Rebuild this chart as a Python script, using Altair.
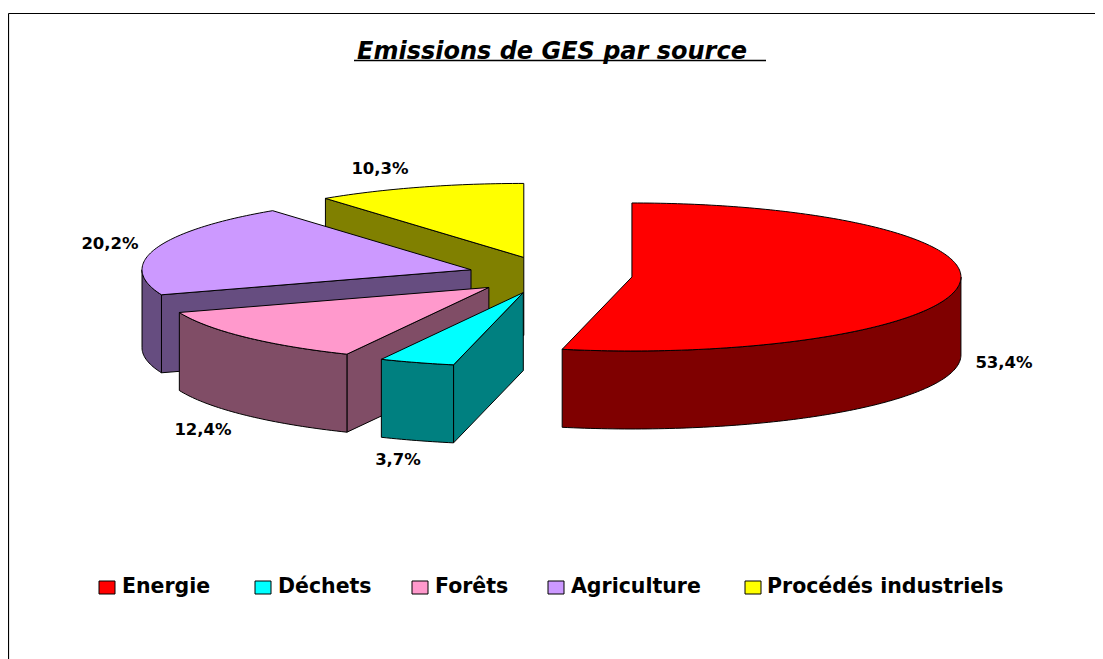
import math
import altair as alt
import pandas as pd

# --- data ---
categories = ["Energie", "Déchets", "Forêts", "Agriculture", "Procédés industriels"]
shares = [53.4, 3.7, 12.4, 20.2, 10.3]
share_labels = ["53,4%", "3,7%", "12,4%", "20,2%", "10,3%"]
top_colors = ["#FF0000", "#00FFFF", "#FF99CC", "#CC99FF", "#FFFF00"]
side_colors = ["#7F0000", "#008080", "#804D66", "#664D80", "#808000"]
title_text = "Emissions de GES par source"

# --- layout (page pixels) ---
W, H = 1087, 651
CX, CY = 550, 275          # pie centre
RX, RY = 329, 74           # ellipse semi-axes
DEPTH = 78                 # pie thickness
EXPLODE = 82.4             # slice explosion distance
DRAW_ORDER = [4, 3, 2, 1, 0]
label_pos = [(1004, 363), (398, 460), (203, 430), (110, 244), (380, 169)]
legend_swatch_x = [99, 255, 412, 548, 745]
legend_label_x = [122, 278, 435, 571, 767]
FONT = "DejaVu Sans"

xs = alt.Scale(domain=[8, 8 + W], range=[0, W], nice=False, zero=False)
ys = alt.Scale(domain=[8, 8 + H], range=[0, H], nice=False, zero=False)
X = lambda f: alt.X(f, type="quantitative", scale=xs, axis=None)
Y = lambda f: alt.Y(f, type="quantitative", scale=ys, axis=None)
X2 = lambda f: alt.X2(f)
Y2 = lambda f: alt.Y2(f)


def rim(ax, ay, deg):
    t = math.radians(deg)
    return ax + RX * math.sin(t), ay - RY * math.cos(t)


def arc(ax, ay, a, b):
    n = max(2, int(abs(b - a)) + 1)
    return [rim(ax, ay, a + (b - a) * i / n) for i in range(n + 1)]


def poly(points, fill):
    df = pd.DataFrame(points, columns=["x", "y"])
    df["i"] = range(len(df))
    return (
        alt.Chart(df)
        .mark_line(interpolate="linear-closed", fill=fill, stroke="#000000", strokeWidth=1, clip=False)
        .encode(x=X("x"), y=Y("y"), order=alt.Order("i:Q"))
    )


total = sum(shares)
angles = [0]
for s in shares:
    angles.append(angles[-1] + 360 * s / total)

layers = []
for k in DRAW_ORDER:
    a, b = angles[k], angles[k + 1]
    m = math.radians((a + b) / 2)
    ax = CX + EXPLODE * math.sin(m)
    ay = CY - EXPLODE * RY / RX * math.cos(m)
    # radial face on the slice's start edge, when it looks towards the viewer
    if 180 <= a < 360:
        rx, ry = rim(ax, ay, a)
        layers.append(poly([(ax, ay), (rx, ry), (rx, ry + DEPTH), (ax, ay + DEPTH)], side_colors[k]))
    # visible outer wall
    lo, hi = max(a, 90), min(b, 270)
    if lo < hi:
        top = arc(ax, ay, lo, hi)
        bottom = [(x, y + DEPTH) for x, y in reversed(top)]
        layers.append(poly(top + bottom, side_colors[k]))
    # top face
    layers.append(poly([(ax, ay)] + arc(ax, ay, a, b), top_colors[k]))

# frame (top and left edges are inside the picture)
frame_top = alt.Chart(pd.DataFrame({"x": [8.5], "x2": [8.0 + W], "y": [13.5]})).mark_rule(
    color="#000000", strokeWidth=1.2
).encode(x=X("x"), x2=X2("x2"), y=Y("y"))
frame_left = alt.Chart(pd.DataFrame({"x": [8.5], "y": [13.5], "y2": [8.0 + H]})).mark_rule(
    color="#000000", strokeWidth=1.2
).encode(x=X("x"), y=Y("y"), y2=Y2("y2"))

# title with underline
title = alt.Chart(pd.DataFrame({"x": [357], "y": [52], "t": [title_text]})).mark_text(
    font=FONT, fontSize=24, fontWeight="bold", fontStyle="italic",
    align="left", baseline="middle", color="#000000"
).encode(x=X("x"), y=Y("y"), text="t:N")
underline = alt.Chart(pd.DataFrame({"x": [354], "x2": [766], "y": [60.5]})).mark_rule(
    color="#000000", strokeWidth=1.5
).encode(x=X("x"), x2=X2("x2"), y=Y("y"))

# percentage labels
lab_df = pd.DataFrame({
    "x": [p[0] for p in label_pos],
    "y": [p[1] for p in label_pos],
    "t": share_labels,
})
labels = alt.Chart(lab_df).mark_text(
    font=FONT, fontSize=16.5, fontWeight="bold",
    align="center", baseline="middle", color="#000000"
).encode(x=X("x"), y=Y("y"), text="t:N")

# legend
leg_df = pd.DataFrame({
    "x": legend_swatch_x,
    "x2": [v + 16 for v in legend_swatch_x],
    "y": [581] * 5,
    "y2": [594] * 5,
    "c": top_colors,
    "lx": legend_label_x,
    "ly": [587] * 5,
    "t": categories,
})
swatches = alt.Chart(leg_df).mark_rect(stroke="#000000", strokeWidth=1).encode(
    x=X("x"), x2=X2("x2"), y=Y("y"), y2=Y2("y2"), fill=alt.Fill("c:N", scale=None)
)
leg_text = alt.Chart(leg_df).mark_text(
    font=FONT, fontSize=20.5, fontWeight="bold",
    align="left", baseline="middle", color="#000000"
).encode(x=X("lx"), y=Y("ly"), text="t:N")

chart = alt.layer(
    frame_top, frame_left, title, underline, *layers, labels, swatches, leg_text
).properties(
    width=W, height=H, padding=0, autosize=alt.AutoSizeParams(type="none"), background="#FFFFFF"
).configure_view(stroke=None)

chart.save("out.html", embed_options={"renderer": "svg", "actions": False})
